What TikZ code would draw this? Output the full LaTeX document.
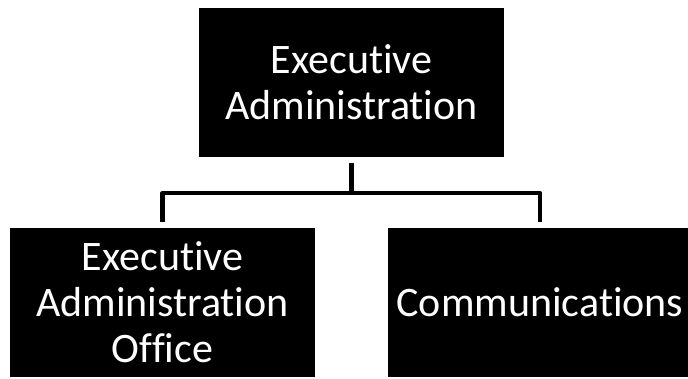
\documentclass[tikz,border=0pt]{standalone}
\usepackage{fontspec}
\setmainfont[Ligatures={NoCommon,NoRare,NoContextual}]{Carlito}
\usepackage{tikz}

\begin{document}
\begin{tikzpicture}[x=1pt,y=1pt,line join=round,
  unit/.style={fill=black,text=white,inner sep=0pt,align=center,
    minimum width=305pt,minimum height=149pt,
    font=\fontsize{42}{46}\selectfont},
  link/.style={line width=4.5pt}]
\useasboundingbox (0,0) rectangle (688,378);
% boxes
\node[unit] (exec) at (351.5,295.5) {Executive\\Administration};
\node[unit] (office) at (162.5,75.5) {Executive\\Administration\\Office};
\node[unit] (comms) at (540,75.5) {Communications};
% connectors
\draw[link] ([yshift=-6pt]exec.south) -- ++(0,-30) coordinate (fork);
\draw[link] ([yshift=6pt]office.north) |- (fork) -| ([yshift=6pt]comms.north);
\end{tikzpicture}
\end{document}
